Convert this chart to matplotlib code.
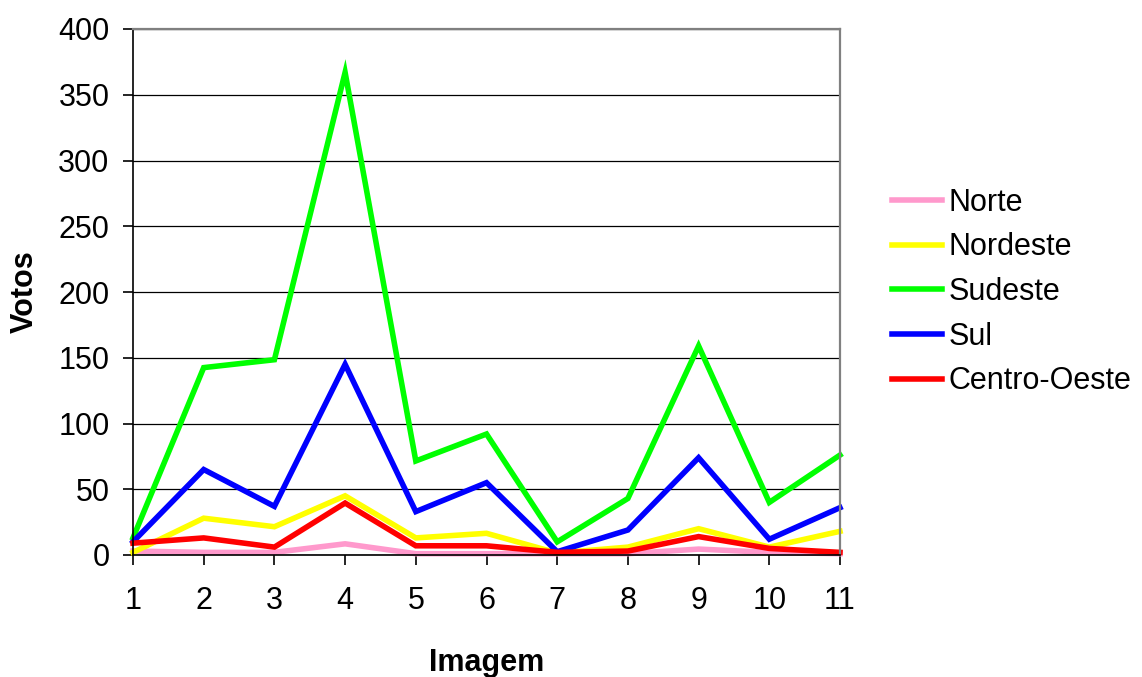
import matplotlib
matplotlib.use("Agg")
import matplotlib.pyplot as plt

plt.rcParams['font.family'] = ['Liberation Sans', 'DejaVu Sans']

imagens = [1, 2, 3, 4, 5, 6, 7, 8, 9, 10, 11]
norte = [3, 2, 2, 8.5, 1, 1, 1, 1, 4.5, 2, 1]
nordeste = [2, 28, 21.5, 45, 13, 16.5, 1.5, 6, 20, 6, 18]
sudeste = [13, 142.5, 148.5, 367, 71.5, 92, 10, 43, 159, 40, 76]
sul = [10, 65, 37, 145, 33, 55, 2.5, 19, 74, 12, 36]
centro_oeste = [9, 13, 6, 39.5, 7, 7, 2, 3, 14, 5, 2]

series = [
    ("Norte", norte, "#FF99CC"),
    ("Nordeste", nordeste, "#FFFF00"),
    ("Sudeste", sudeste, "#00FF00"),
    ("Sul", sul, "#0000FF"),
    ("Centro-Oeste", centro_oeste, "#FF0000"),
]

fig = plt.figure(figsize=(11.42, 6.77), dpi=100)
ax = fig.add_axes([133 / 1142, 1 - 555 / 677, (840 - 133) / 1142, (555 - 29) / 677])

for name, vals, col in series:
    ax.plot(imagens, vals, color=col, lw=4, label=name, solid_joinstyle='miter', clip_on=False)

ax.set_xlim(1, 11)
ax.set_ylim(0, 400)
ax.set_xticks(imagens)
ax.set_yticks(range(0, 401, 50))
ax.yaxis.grid(True, color='black', lw=0.9)
ax.set_axisbelow(True)
ax.tick_params(labelsize=22, length=7, width=1.2, direction='out')
ax.tick_params(axis='x', pad=15)
ax.tick_params(axis='y', pad=10)
for s in ['top', 'right']:
    ax.spines[s].set_color('#808080')
    ax.spines[s].set_linewidth(1.6)
for s in ['left', 'bottom']:
    ax.spines[s].set_linewidth(1.2)

ax.set_xlabel("Imagem", fontsize=22, fontweight='bold', labelpad=23)
ax.set_ylabel("Votos", fontsize=22, fontweight='bold', labelpad=13)

ax.legend(loc='center left', bbox_to_anchor=(892 / 1142, 1 - 292 / 677),
          bbox_transform=fig.transFigure, frameon=False, borderpad=0, borderaxespad=0,
          fontsize=22, handlelength=1.62, handletextpad=0.24, labelspacing=0.48)

fig.savefig("out.png", dpi=100)
